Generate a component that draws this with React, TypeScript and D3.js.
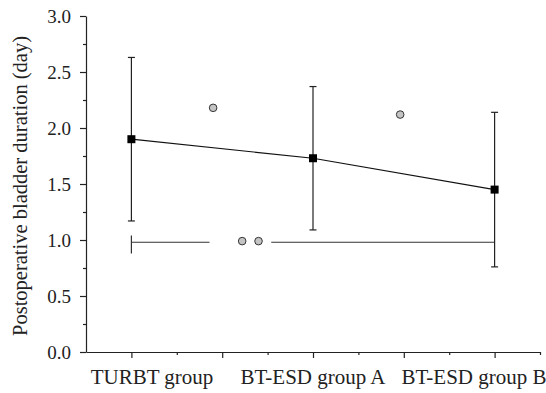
import { useEffect, useRef } from 'react';
import * as d3 from 'd3';

const groups = ['TURBT group', 'BT-ESD group A', 'BT-ESD group B'];
const groupX = [1, 2, 3];
const means = [1.9, 1.73, 1.45];
const lower = [1.17, 1.09, 0.76];
const upper = [2.63, 2.37, 2.14];
const outlierX = [1.45, 1.61, 1.7, 2.48];
const outlierY = [2.18, 0.99, 0.99, 2.12];
const bracketStart = [1, 1.77];
const bracketEnd = [1.43, 3];
const bracketY = 0.98;
const yTicks = [0, 0.5, 1, 1.5, 2, 2.5, 3];
const yMinor = [0.25, 0.75, 1.25, 1.75, 2.25, 2.75];
const xMajor = [1, 1.5, 2, 2.5, 3];
const xMinor = [1.25, 1.75, 2.25, 2.75, 3.25];

const W = 546;
const H = 393;
const FONT = '"Liberation Serif", "Times New Roman", serif';

const App = () => {
  const ref = useRef<SVGSVGElement>(null);

  useEffect(() => {
    const svg = d3.select(ref.current);
    svg.selectAll('*').remove();

    const x = d3.scaleLinear().domain([0.75, 3.25]).range([86, 540]);
    const y = d3.scaleLinear().domain([0, 3]).range([352, 16]);
    const labelX = d3.scalePoint<string>().domain(groups).range([86, 540]).padding(0.41);
    const ink = '#222';

    // axes
    const yAxis = svg.append('g').attr('transform', `translate(${x(0.75)},0)`);
    yAxis.call(d3.axisLeft(y).tickValues(yTicks).tickFormat(d3.format('.1f')).tickSize(6).tickPadding(9).tickSizeOuter(0));
    yAxis.append('g').call(d3.axisLeft(y).tickValues(yMinor).tickFormat(() => '').tickSize(3).tickSizeOuter(0))
      .select('.domain').remove();

    const xAxis = svg.append('g').attr('transform', `translate(0,${y(0)})`);
    xAxis.call(d3.axisBottom(x).tickValues(xMajor).tickFormat(() => '').tickSize(6).tickSizeOuter(0));
    xAxis.append('g').call(d3.axisBottom(x).tickValues(xMinor).tickFormat(() => '').tickSize(3).tickSizeOuter(0))
      .select('.domain').remove();

    svg.selectAll('.domain, .tick line').attr('stroke', ink).attr('stroke-width', 1.2);
    svg.selectAll('.tick text')
      .attr('font-family', FONT).attr('font-size', 19).attr('fill', '#222');

    svg.append('g').selectAll('text')
      .data(groups)
      .enter()
      .append('text')
      .attr('x', d => labelX(d)!)
      .attr('y', y(0) + 32)
      .attr('text-anchor', 'middle')
      .attr('font-family', FONT).attr('font-size', 21).attr('fill', '#222')
      .text(d => d);

    svg.append('text')
      .attr('transform', `translate(20,${(y(0) + y(3)) / 2 + 2}) rotate(-90)`)
      .attr('text-anchor', 'middle')
      .attr('dy', '0.35em')
      .attr('font-family', FONT).attr('font-size', 20.5).attr('fill', '#222')
      .text('Postoperative bladder duration (day)');

    // bracket line
    svg.append('g').selectAll('line')
      .data(bracketStart)
      .enter()
      .append('line')
      .attr('x1', d => x(d)).attr('x2', (d, i) => x(bracketEnd[i]))
      .attr('y1', y(bracketY)).attr('y2', y(bracketY))
      .attr('stroke', '#333').attr('stroke-width', 1.2);
    svg.append('line')
      .attr('x1', x(bracketStart[0])).attr('x2', x(bracketStart[0]))
      .attr('y1', y(bracketY + 0.06)).attr('y2', y(bracketY - 0.1))
      .attr('stroke', '#333').attr('stroke-width', 1.2);

    // error bars
    const bars = svg.append('g').selectAll('g')
      .data(groupX)
      .enter()
      .append('g');
    bars.append('line')
      .attr('x1', d => x(d)).attr('x2', d => x(d))
      .attr('y1', (d, i) => y(lower[i])).attr('y2', (d, i) => y(upper[i]))
      .attr('stroke', '#222').attr('stroke-width', 1.2);
    bars.append('line')
      .attr('x1', d => x(d) - 3.5).attr('x2', d => x(d) + 3.5)
      .attr('y1', (d, i) => y(lower[i])).attr('y2', (d, i) => y(lower[i]))
      .attr('stroke', '#222').attr('stroke-width', 1.2);
    bars.append('line')
      .attr('x1', d => x(d) - 3.5).attr('x2', d => x(d) + 3.5)
      .attr('y1', (d, i) => y(upper[i])).attr('y2', (d, i) => y(upper[i]))
      .attr('stroke', '#222').attr('stroke-width', 1.2);

    // mean line
    const line = d3.line<number>()
      .x(d => x(d))
      .y((d, i) => y(means[i]));
    svg.append('path')
      .attr('d', line(groupX))
      .attr('fill', 'none')
      .attr('stroke', '#111')
      .attr('stroke-width', 1.2);

    svg.append('g').selectAll('rect')
      .data(groupX)
      .enter()
      .append('rect')
      .attr('x', d => x(d) - 4)
      .attr('y', (d, i) => y(means[i]) - 4)
      .attr('width', 8).attr('height', 8)
      .attr('fill', '#000');

    // outliers
    svg.append('g').selectAll('circle')
      .data(outlierX)
      .enter()
      .append('circle')
      .attr('cx', d => x(d))
      .attr('cy', (d, i) => y(outlierY[i]))
      .attr('r', 3.8)
      .attr('fill', '#c4c4c4')
      .attr('stroke', '#333')
      .attr('stroke-width', 1);
  }, []);

  return (
    <svg ref={ref} width={W} height={H}
      style={{ position: 'absolute', left: 0, top: 0, background: '#fff' }} />
  );
};

export default App;
